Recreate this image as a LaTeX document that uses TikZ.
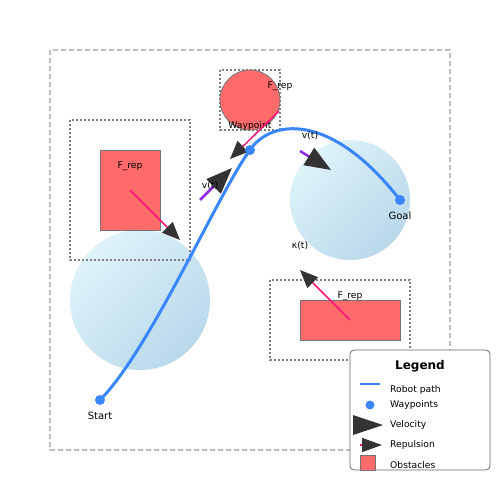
\documentclass[tikz,border=0pt]{standalone}
\usepackage{fontspec}
\setmainfont{DejaVu Sans}
\usetikzlibrary{arrows.meta, positioning}
\definecolor{pathBlue}{RGB}{58, 134, 255}
\definecolor{obsRed}{RGB}{255, 107, 107}
\definecolor{repPink}{RGB}{255, 20, 120}
\definecolor{velPurple}{RGB}{138, 43, 226}
\definecolor{headGray}{RGB}{51, 51, 51}
\definecolor{zoneLight}{RGB}{222, 243, 250}
\definecolor{zoneDark}{RGB}{184, 216, 234}
\definecolor{marginGray}{RGB}{128, 128, 128}
\definecolor{borderGray}{RGB}{190, 190, 190}

\begin{document}
\begin{tikzpicture}[x=1pt, y=-1pt,
    every node/.style={font=\fontsize{9.2}{11}\selectfont, inner sep=0pt},
    zone/.style={top color=zoneLight, bottom color=zoneDark, shading angle=45},
    obstacle/.style={fill=obsRed, draw=gray!90!black, line width=0.8pt},
    margin/.style={draw=marginGray, line width=1.2pt, dash pattern=on 2pt off 2pt},
    waypt/.style={circle, fill=pathBlue, minimum size=10pt},
    repel/.style={repPink, line width=1.5pt, -{Triangle[length=18pt, width=15pt, fill=headGray, color=headGray]}},
    velo/.style={velPurple, line width=2.5pt, -{Triangle[length=26pt, width=20pt, fill=headGray, color=headGray]}}]
    \useasboundingbox (0,0) rectangle (500,500);

    % workspace border
    \draw[borderGray, line width=1.2pt, dash pattern=on 5pt off 3pt] (50,50) rectangle (450,450);

    % influence zones
    \shade[zone] (140,300) circle (70);
    \shade[zone] (350,200) circle (60);

    % safety margins and obstacles
    \draw[margin] (70,120) rectangle (190,260);
    \draw[margin] (220,70) rectangle (280,130);
    \draw[margin] (270,280) rectangle (410,360);
    \draw[obstacle] (100,150) rectangle (160,230);
    \draw[obstacle] (250,100) circle (30);
    \draw[obstacle] (300,300) rectangle (400,340);

    \node (frep1) at (130,166) {F\_rep};
    \node (frep2) at (280,86) {F\_rep};
    \node (frep3) at (350,296) {F\_rep};
    \node (wplabel) at (250,126) {Waypoint};
    \node (kappa) at (300,246) {κ(t)};

    % repulsive forces
    \coordinate (r1a) at (130,190);
    \coordinate (r1b) at (180,240);
    \coordinate (r2a) at (279,111);
    \coordinate (r2b) at (230,159);
    \coordinate (r3a) at (350,320);
    \coordinate (r3b) at (300,270);
    \draw[repel] (r1a) -- (r1b);
    \draw[repel] (r2a) -- (r2b);
    \draw[repel] (r3a) -- (r3b);

    % robot path
    \node[waypt] (start) at (100,400) {};
    \node[waypt] (wp) at (250,150) {};
    \node[waypt] (goal) at (400,200) {};
    \draw[pathBlue, line width=3pt, line cap=round] (start.center) .. controls (150,350) and (220,190) .. (wp.center)
        .. controls (270,120) and (330,110) .. (goal.center);
    \node[below=7pt of start, font=\fontsize{10}{12}\selectfont] (startlabel) {Start};
    \node[below=7pt of goal, font=\fontsize{10}{12}\selectfont] (goallabel) {Goal};

    % velocity
    \coordinate (v1a) at (200,200);
    \coordinate (v1b) at (232,168);
    \coordinate (v2a) at (300,151);
    \coordinate (v2b) at (331,170);
    \draw[velo] (v1a) -- (v1b);
    \draw[velo] (v2a) -- (v2b);
    \node (vel1) at (210,186) {v(t)};
    \node (vel2) at (310,136) {v(t)};

    % legend
    \node[draw=gray!80!black, fill=white, rounded corners=4pt, line width=0.8pt, minimum width=140pt, minimum height=120pt] (legend) at (420,410) {};
    \node[font=\bfseries\fontsize{12}{14}\selectfont] (legtitle) at (420,366) {Legend};
    \coordinate (lp1) at (360,384);
    \coordinate (lp2) at (380,384);
    \draw[pathBlue, line width=2pt] (lp1) -- (lp2);
    \node[right] (legpath) at (390,390) {Robot path};
    \node[waypt, minimum size=9pt] (legdot) at (370,405) {};
    \node[right] (legwp) at (390,405) {Waypoints};
    \fill[headGray] (353,415) -- (383,425) -- (353,435) -- cycle;
    \node[right] (legvel) at (390,425) {Velocity};
    \coordinate (lr1) at (360,445);
    \coordinate (lr2) at (382,445);
    \draw[repel, -{Triangle[length=20pt, width=14pt, fill=headGray, color=headGray]}] (lr1) -- (lr2);
    \node[right] (legrep) at (390,445) {Repulsion};
    \draw[obstacle] (360,455) rectangle (375,470);
    \node[right] (legobs) at (390,465) {Obstacles};
\end{tikzpicture}
\end{document}
